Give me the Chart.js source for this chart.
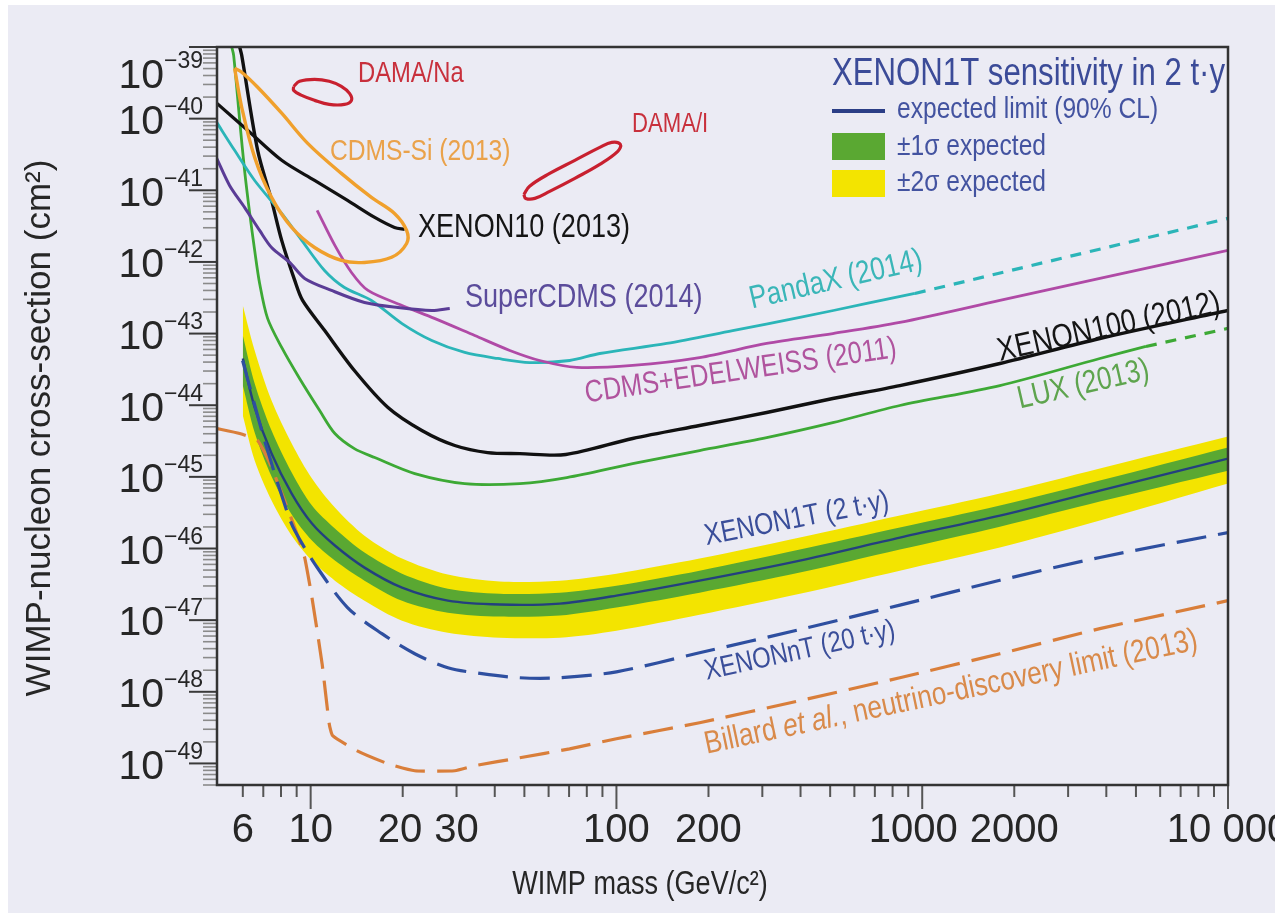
<!DOCTYPE html>
<html>
<head>
<meta charset="utf-8">
<script src="https://cdn.jsdelivr.net/npm/chart.js@4.4.1/dist/chart.umd.min.js"></script>
<style>
  html, body { margin: 0; padding: 0; background: #fff; }
</style>
</head>
<body>
<canvas id="wimpChart" width="1275" height="923"></canvas>
<script>
// ---- values: WIMP mass (GeV/c^2) vs cross-section (cm^2) ----
const massTicks = [6, 10, 20, 30, 100, 200, 1000, 2000, 10000];
const sigmaTicks = [1e-49, 1e-48, 1e-47, 1e-46, 1e-45, 1e-44, 1e-43, 1e-42, 1e-41, 1e-40, 1e-39];

const xenon100Mass = [5.86, 5.95, 6.71, 7.45, 8.04, 8.87, 9.41, 11.1, 13.9, 17.9, 23.1, 29.6, 37.9, 48.3, 68.3, 113, 187, 310, 510, 845, 1795, 3810, 10000];
const xenon100Sigma = [1.0e-39, 7.66e-40, 3.61e-41, 7.23e-42, 2.0e-42, 5.52e-43, 2.90e-43, 1.11e-43, 3.05e-44, 9.29e-45, 4.44e-45, 2.74e-45, 2.18e-45, 2.11e-45, 2.05e-45, 3.43e-45, 5.21e-45, 7.91e-45, 1.24e-44, 1.88e-44, 3.82e-44, 8.53e-44, 2.10e-43];

const luxMass = [5.52, 5.60, 5.86, 6.08, 6.32, 6.56, 6.81, 7.23, 8.04, 9.20, 10.7, 12.0, 13.9, 16.2, 21.9, 31.9, 48.3, 68.8, 113, 187, 310, 510, 845, 1795, 3810, 5390];
const luxSigma = [1.0e-39, 7.66e-40, 9.46e-41, 1.90e-41, 4.75e-42, 1.45e-42, 5.01e-43, 1.63e-43, 6.40e-44, 2.36e-44, 8.43e-45, 4.03e-45, 2.48e-45, 1.86e-45, 1.11e-45, 8.05e-46, 8.05e-46, 9.77e-46, 1.53e-45, 2.33e-45, 3.53e-45, 5.71e-45, 9.91e-45, 1.88e-44, 4.49e-44, 6.61e-44];
const luxExtMass = [5390, 10000];
const luxExtSigma = [6.61e-44, 1.18e-43];

const pandaxMass = [4.93, 5.64, 6.56, 8.04, 9.35, 11.1, 12.9, 15.8, 19.9, 24.9, 31.9, 40.9, 52.0, 70.3, 88.2, 146, 240, 398, 659, 946];
const pandaxSigma = [8.87e-41, 3.61e-41, 1.37e-41, 4.75e-42, 2.0e-42, 7.60e-43, 4.40e-43, 2.90e-43, 1.38e-43, 8.01e-44, 5.45e-44, 4.49e-44, 3.94e-44, 4.21e-44, 5.27e-44, 7.28e-44, 1.10e-43, 1.68e-43, 2.63e-43, 3.63e-43];
const pandaxExtMass = [946, 10000];
const pandaxExtSigma = [3.63e-43, 4.05e-42];

const cdmsEdwMass = [10.5, 12.0, 13.6, 15.4, 19.9, 25.4, 34.4, 44.8, 56.1, 74.2, 113, 187, 310, 510, 845, 1795, 3810, 10000];
const cdmsEdwSigma = [5.24e-42, 1.70e-42, 7.13e-43, 4.00e-43, 2.47e-43, 1.63e-43, 9.40e-44, 5.81e-44, 4.21e-44, 3.37e-44, 3.59e-44, 4.63e-44, 7.28e-44, 1.0e-43, 1.43e-43, 2.90e-43, 5.89e-43, 1.45e-42];

const superCdmsMass = [4.93, 5.43, 6.08, 6.81, 7.45, 8.54, 9.56, 11.7, 15.0, 19.3, 24.9, 28.5];
const superCdmsSigma = [2.79e-41, 1.17e-41, 5.77e-42, 2.75e-42, 1.59e-42, 9.84e-43, 5.89e-43, 4.00e-43, 2.72e-43, 2.31e-43, 2.10e-43, 2.24e-43];

const xenon10Mass = [4.93, 6.22, 8.04, 10.3, 13.2, 16.2, 18.8, 20.3];
const xenon10Sigma = [1.64e-40, 6.87e-41, 2.62e-41, 1.37e-41, 7.23e-42, 4.18e-42, 3.03e-42, 2.84e-42];

const cdmsSiMass = [5.64, 5.95, 6.56, 7.45, 8.67, 10.3, 12.6, 15.0, 18.4, 20.6, 20.6, 18.8, 15.8, 12.6, 9.78, 8.04, 6.71, 5.95, 5.64];
const cdmsSiSigma = [5.05e-40, 1.44e-40, 2.88e-41, 7.96e-42, 3.03e-42, 1.59e-42, 1.05e-42, 9.84e-43, 1.16e-42, 1.81e-42, 2.75e-42, 4.75e-42, 7.96e-42, 1.72e-41, 4.52e-41, 1.19e-40, 2.74e-40, 4.44e-40, 5.05e-40];

const damaNaMass = [8.80, 9.20, 10.3, 11.5, 12.6, 13.4, 13.6, 12.9, 11.5, 10.3, 9.35, 8.80, 8.80];
const damaNaSigma = [2.82e-40, 3.32e-40, 3.54e-40, 3.32e-40, 2.82e-40, 2.25e-40, 1.80e-40, 1.58e-40, 1.58e-40, 1.80e-40, 2.11e-40, 2.48e-40, 2.82e-40];

const damaIMass = [49.8, 52.0, 60.5, 73.1, 88.2, 96.5, 103, 101, 88.2, 73.1, 60.5, 54.1, 50.5, 49.8];
const damaISigma = [8.77e-42, 1.14e-41, 1.72e-41, 2.62e-41, 3.97e-41, 4.67e-41, 4.38e-41, 3.49e-41, 2.30e-41, 1.47e-41, 9.66e-42, 7.71e-42, 7.71e-42, 8.77e-42];

// XENON1T 2 t.y expected sensitivity band
const bandMass = [6.0, 6.56, 7.45, 8.67, 10.1, 12.0, 15.0, 19.9, 28.1, 41.5, 65.3, 100, 187, 398, 845, 1795, 3810, 10000];
const bandMedian = [4.49e-44, 9.29e-45, 2.12e-45, 5.84e-46, 2.23e-46, 1.10e-46, 5.41e-47, 2.84e-47, 1.87e-47, 1.65e-47, 1.70e-47, 2.20e-47, 3.56e-47, 6.78e-47, 1.42e-46, 2.88e-46, 6.44e-46, 1.80e-45];
const band2Up = [2.47e-43, 5.81e-44, 1.16e-44, 2.92e-45, 9.47e-46, 3.73e-46, 1.51e-46, 7.23e-47, 4.32e-47, 3.45e-47, 3.56e-47, 4.46e-47, 7.23e-47, 1.42e-46, 2.88e-46, 5.84e-46, 1.31e-45, 3.65e-45];
const band1Up = [9.41e-44, 2.01e-44, 4.43e-45, 1.15e-45, 3.97e-46, 1.90e-46, 8.76e-47, 4.46e-47, 2.75e-47, 2.34e-47, 2.42e-47, 3.03e-47, 4.91e-47, 9.65e-47, 1.96e-46, 3.97e-46, 8.88e-46, 2.57e-45];
const band1Low = [1.88e-44, 4.16e-45, 1.01e-45, 2.98e-46, 1.29e-46, 6.78e-47, 3.56e-47, 1.87e-47, 1.27e-47, 1.12e-47, 1.16e-47, 1.50e-47, 2.42e-47, 4.61e-47, 9.65e-47, 2.02e-46, 4.52e-46, 1.22e-45];
const band2Low = [7.18e-45, 1.69e-45, 4.67e-46, 1.51e-46, 6.78e-47, 3.56e-47, 1.87e-47, 9.84e-48, 6.69e-48, 5.70e-48, 5.70e-48, 7.13e-48, 1.19e-47, 2.34e-47, 4.91e-47, 1.03e-46, 2.45e-46, 8.06e-46];

const xenonNTMass = [5.99, 7.07, 8.41, 8.87, 10.3, 13.2, 17.1, 21.9, 28.1, 36.3, 48.3, 65.3, 100, 187, 398, 845, 1795, 3810, 10000];
const xenonNTSigma = [4.21e-44, 3.21e-45, 3.07e-46, 1.78e-46, 6.15e-47, 1.50e-47, 6.48e-48, 3.40e-48, 2.17e-48, 1.79e-48, 1.57e-48, 1.57e-48, 1.90e-48, 3.50e-48, 7.40e-48, 1.62e-47, 3.60e-47, 7.50e-47, 1.67e-46];

const billardMass = [4.93, 5.86, 6.71, 7.34, 8.22, 9.07, 9.56, 10.1, 10.9, 11.5, 11.8, 14.2, 17.9, 21.9, 29.6, 34.4, 48.3, 70.3, 100, 187, 398, 845, 1795, 3810, 10000];
const billardSigma = [4.73e-45, 4.03e-45, 3.21e-45, 1.58e-45, 4.67e-46, 1.51e-46, 7.46e-47, 2.06e-47, 2.47e-48, 3.58e-49, 2.44e-49, 1.50e-49, 9.90e-50, 7.91e-50, 7.91e-50, 9.29e-50, 1.20e-49, 1.60e-49, 2.21e-49, 3.70e-49, 7.51e-49, 1.57e-48, 3.40e-48, 7.61e-48, 1.87e-47];

// ---- helpers ----
const pts = (xs, ys) => xs.map((x, i) => ({ x: x, y: ys[i] }));
const SANS = "'Liberation Sans', Arial, sans-serif";
const BG = '#ebebf4';
const INK = '#262626';

function curve(label, xs, ys, color, width, extra) {
  return Object.assign({
    label: label,
    data: pts(xs, ys),
    borderColor: color,
    backgroundColor: color,
    borderWidth: width,
    pointRadius: 0,
    tension: 0.3,
    fill: false,
    order: 1
  }, extra || {});
}

// text in the figure's condensed face; returns the drawn width
function label(ctx, str, x, y, size, color, o) {
  o = o || {};
  const sx = o.sx || 0.82;
  ctx.save();
  ctx.translate(x, y);
  ctx.rotate(-(o.angle || 0) * Math.PI / 180);
  ctx.scale(sx, 1);
  ctx.font = (o.italic ? 'italic ' : '') + size + 'px ' + SANS;
  ctx.fillStyle = color;
  ctx.textAlign = o.align || 'left';
  ctx.textBaseline = 'middle';
  ctx.fillText(str, 0, 0);
  const w = ctx.measureText(str).width * sx;
  ctx.restore();
  return w;
}

const backdrop = {
  id: 'backdrop',
  beforeDraw(chart) {
    const ctx = chart.ctx;
    ctx.save();
    ctx.fillStyle = '#ffffff';
    ctx.fillRect(0, 0, chart.width, chart.height);
    ctx.fillStyle = BG;
    ctx.fillRect(8, 5, chart.width - 8, chart.height - 15);
    ctx.restore();
  }
};

const decorations = {
  id: 'decorations',
  afterDraw(chart) {
    const ctx = chart.ctx;
    const a = chart.chartArea;
    const xs = chart.scales.x, ys = chart.scales.y;
    ctx.save();

    // log tick marks outside the frame
    for (let e = -50; e <= -39; e++) {
      for (let m = 1; m <= 9; m++) {
        const v = m * Math.pow(10, e);
        if (v < ys.min * 0.999 || v > ys.max * 1.001) continue;
        const p = ys.getPixelForValue(v);
        ctx.beginPath();
        if (m === 1) { ctx.strokeStyle = '#3a3a3a'; ctx.lineWidth = 2; ctx.moveTo(a.left - 28, p); }
        else { ctx.strokeStyle = '#8a8a8a'; ctx.lineWidth = 1.6; ctx.moveTo(a.left - 14, p); }
        ctx.lineTo(a.left, p);
        ctx.stroke();
      }
    }
    for (let e = 0; e <= 4; e++) {
      for (let m = 1; m <= 9; m++) {
        const v = m * Math.pow(10, e);
        if (v < 6 || v > xs.max * 1.001) continue;
        const p = xs.getPixelForValue(v);
        ctx.beginPath();
        ctx.strokeStyle = '#555';
        ctx.lineWidth = 2;
        ctx.moveTo(p, a.bottom);
        ctx.lineTo(p, a.bottom + (m === 1 ? 24 : 12));
        ctx.stroke();
      }
    }

    // frame
    ctx.strokeStyle = '#333';
    ctx.lineWidth = 2.5;
    ctx.strokeRect(a.left, a.top, a.right - a.left, a.bottom - a.top);

    // x tick labels; a label that would touch its right neighbour steps left
    ctx.font = '40px ' + SANS;
    const xl = xs.ticks.map(t => {
      const s = t.value === 10000 ? '10 000' : String(t.value);
      const w = ctx.measureText(s).width;
      return { s: s, c: xs.getPixelForValue(t.value), w: w };
    });
    for (let i = xl.length - 2; i >= 0; i--) {
      const gap = (xl[i + 1].c - xl[i + 1].w / 2) - (xl[i].c + xl[i].w / 2);
      if (gap < 12) xl[i].c -= 12 - gap;
    }
    xl.forEach(l => label(ctx, l.s, l.c, a.bottom + 46, 40, INK, { sx: 1, align: 'center' }));

    // y tick labels as 10 with a raised exponent
    ys.ticks.forEach(t => {
      const p = ys.getPixelForValue(t.value);
      const yy = Math.max(p + 4, a.top + 30);
      const ex = '\u2212' + String(-Math.round(Math.log10(t.value)));
      const we = label(ctx, ex, a.left - 14, yy - 15, 23, INK, { sx: 1, align: 'right' });
      label(ctx, '10', a.left - 14 - we, yy, 41, INK, { sx: 1, align: 'right' });
    });

    // axis titles
    label(ctx, 'WIMP mass (GeV/c\u00b2)', 640, 885, 33, INK, { align: 'center' });
    ctx.save();
    ctx.translate(40, 428);
    ctx.rotate(-Math.PI / 2);
    label(ctx, 'WIMP-nucleon cross-section (cm\u00b2)', 0, 0, 35, INK, { sx: 1, align: 'center' });
    ctx.restore();

    // curve labels
    label(ctx, 'DAMA/Na', 358, 74, 29, '#c8303c');
    label(ctx, 'DAMA/I', 632, 125, 27, '#c8303c');
    label(ctx, 'CDMS-Si (2013)', 330, 152, 30, '#eaa24a');
    label(ctx, 'XENON10 (2013)', 418, 228, 33, '#151515');
    label(ctx, 'SuperCDMS (2014)', 465, 298, 33, '#5b4c9b');
    label(ctx, 'PandaX (2014)', 750, 300, 32, '#3ab6b8', { angle: 13 });
    label(ctx, 'CDMS+EDELWEISS (2011)', 585, 394, 31, '#b0549e', { angle: 8.3 });
    label(ctx, 'XENON100 (2012)', 998, 352, 33, '#151515', { angle: 12.5 });
    label(ctx, 'LUX (2013)', 1018, 400, 32, '#5ea44e', { angle: 13 });
    label(ctx, 'XENON1T (2 t\u00b7y)', 705, 537, 30, '#3a4e9a', { angle: 11 });
    label(ctx, 'XENONnT (20 t\u00b7y)', 705, 672, 29, '#3a4e9a', { angle: 12.4 });

    // Billard label, "et al." in italics, along one rotated baseline
    ctx.save();
    ctx.translate(705, 745);
    ctx.rotate(-12 * Math.PI / 180);
    let off = label(ctx, 'Billard ', 0, 0, 32, '#d98a4a');
    off += label(ctx, 'et al.', off, 0, 32, '#d98a4a', { italic: true });
    label(ctx, ', neutrino-discovery limit (2013)', off, 0, 32, '#d98a4a');
    ctx.restore();

    // legend box
    label(ctx, 'XENON1T sensitivity in 2 t\u00b7y', 832, 75, 38, '#3b4b98');
    ctx.strokeStyle = '#2b3e86';
    ctx.lineWidth = 4;
    ctx.beginPath();
    ctx.moveTo(832, 111);
    ctx.lineTo(885, 111);
    ctx.stroke();
    label(ctx, 'expected limit (90% CL)', 897, 110, 30, '#4353a0');
    ctx.fillStyle = '#5aa832';
    ctx.fillRect(832, 133, 53, 27);
    label(ctx, '\u00b11\u03c3 expected', 897, 147, 30, '#4353a0');
    ctx.fillStyle = '#f3e400';
    ctx.fillRect(832, 170, 53, 27);
    label(ctx, '\u00b12\u03c3 expected', 897, 183, 30, '#4353a0');

    ctx.restore();
  }
};

new Chart(document.getElementById('wimpChart').getContext('2d'), {
  type: 'line',
  data: {
    datasets: [
      curve('DAMA/Na', damaNaMass, damaNaSigma, '#c8202f', 3.2, { tension: 0.4 }),
      curve('DAMA/I', damaIMass, damaISigma, '#c8202f', 3.2, { tension: 0.4 }),
      curve('CDMS-Si (2013)', cdmsSiMass, cdmsSiSigma, '#f0a02c', 3.4, { tension: 0.35 }),
      curve('XENON10 (2013)', xenon10Mass, xenon10Sigma, '#111111', 3.2),
      curve('SuperCDMS (2014)', superCdmsMass, superCdmsSigma, '#5a3c96', 3),
      curve('CDMS+EDELWEISS (2011)', cdmsEdwMass, cdmsEdwSigma, '#b04aa6', 2.8),
      curve('PandaX (2014)', pandaxMass, pandaxSigma, '#2bb5b8', 2.8),
      curve('PandaX extrapolation', pandaxExtMass, pandaxExtSigma, '#2bb5b8', 3.2, { borderDash: [11, 9], tension: 0 }),
      curve('XENON100 (2012)', xenon100Mass, xenon100Sigma, '#111111', 3.4),
      curve('LUX (2013)', luxMass, luxSigma, '#3da935', 2.8),
      curve('LUX extrapolation', luxExtMass, luxExtSigma, '#3da935', 3.2, { borderDash: [11, 9], tension: 0 }),
      curve('XENONnT (20 t\u00b7y)', xenonNTMass, xenonNTSigma, '#2e4fa0', 3.2, { borderDash: [30, 12], order: 2 }),
      curve('Billard et al. (2013)', billardMass, billardSigma, '#d97e3a', 3.2, { borderDash: [30, 12], tension: 0.15, order: 2 }),
      curve('XENON1T expected limit', bandMass, bandMedian, '#23407e', 2.4, { order: 3 }),
      curve('+1 sigma', bandMass, band1Up, 'rgba(0,0,0,0)', 0, { fill: '+1', backgroundColor: '#5aa832', order: 4 }),
      curve('-1 sigma', bandMass, band1Low, 'rgba(0,0,0,0)', 0, { order: 4 }),
      curve('+2 sigma', bandMass, band2Up, 'rgba(0,0,0,0)', 0, { fill: '+1', backgroundColor: '#f3e400', order: 5 }),
      curve('-2 sigma', bandMass, band2Low, 'rgba(0,0,0,0)', 0, { order: 5 })
    ]
  },
  options: {
    responsive: false,
    devicePixelRatio: 1,
    animation: false,
    layout: { padding: { top: 47, right: 47, left: 0, bottom: 0 } },
    plugins: {
      legend: { display: false },
      tooltip: { enabled: false }
    },
    scales: {
      x: {
        type: 'logarithmic',
        min: 4.94,
        max: 10000,
        grid: { display: false, drawTicks: false },
        border: { display: false },
        afterBuildTicks: s => { s.ticks = massTicks.map(v => ({ value: v })); },
        afterFit: s => { s.height = 138; s.paddingLeft = 0; s.paddingRight = 0; },
        ticks: { display: false, autoSkip: false, maxRotation: 0 }
      },
      y: {
        type: 'logarithmic',
        min: 5.0e-50,
        max: 1e-39,
        grid: { display: false, drawTicks: false },
        border: { display: false },
        afterBuildTicks: s => { s.ticks = sigmaTicks.map(v => ({ value: v })); },
        afterFit: s => { s.width = 217; s.paddingTop = 0; s.paddingBottom = 0; },
        ticks: { display: false, autoSkip: false }
      }
    }
  },
  plugins: [backdrop, decorations]
});
</script>
</body>
</html>
